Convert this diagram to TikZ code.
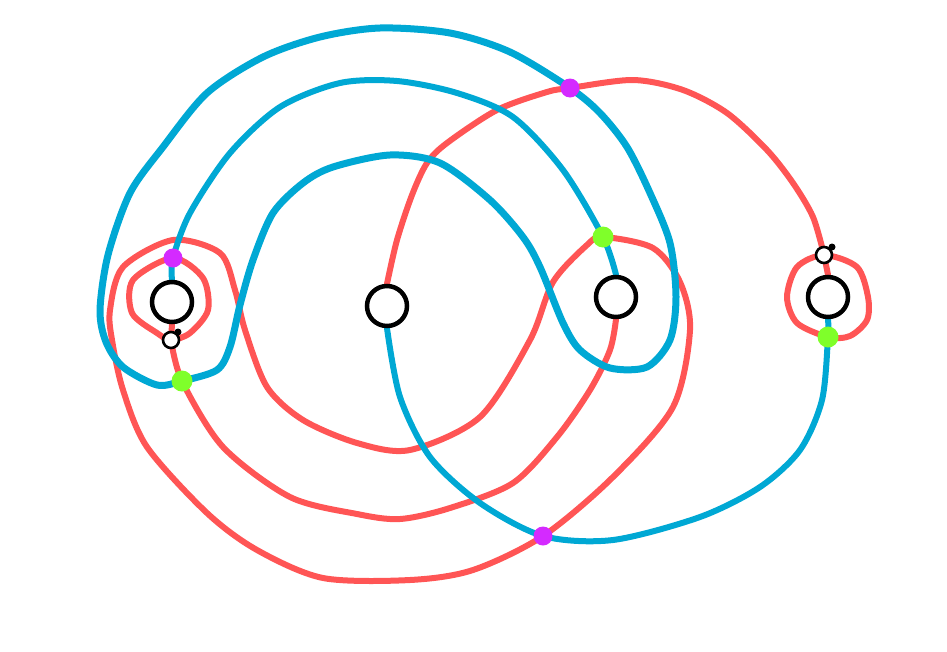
\documentclass[tikz,border=0pt]{standalone}
\usepackage{tikz}
\usetikzlibrary{backgrounds}
\definecolor{curveblue}{RGB}{0,168,212}
\definecolor{curvered}{RGB}{255,85,85}
\definecolor{dotpink}{RGB}{212,42,255}
\definecolor{dotgreen}{RGB}{127,255,42}
\tikzset{
    x=1pt, y=-1pt, % pixel-like coordinates, y going down
    puncture/.style={circle, draw=black, line width=4.5pt, fill=white, minimum size=40pt, inner sep=0pt}, % the big black circles
    basepoint/.style={circle, draw=black, line width=2.6pt, fill=white, minimum size=16pt, inner sep=0pt}, % small open circles
    tip/.style={circle, fill=black, minimum size=7pt, inner sep=0pt}, % the little black dot on them
    pinkdot/.style={circle, fill=dotpink, minimum size=19pt, inner sep=0pt},
    greendot/.style={circle, fill=dotgreen, minimum size=21pt, inner sep=0pt},
    bluecurve/.style={draw=curveblue, line width=6pt, line cap=round, line join=round},
    redcurve/.style={draw=curvered, line width=6pt, line cap=round, line join=round},
}
\begin{document}
\begin{tikzpicture}
    \useasboundingbox (0,0) rectangle (947,651);
    % punctures
    \node[puncture] (c1) at (172,302) {};
    \node[puncture] (c2) at (387,306) {};
    \node[puncture] (c3) at (616,297) {};
    \node[puncture] (c4) at (828,297) {};
    % base points
    \node[basepoint] (s1) at (171,340) {};
    \node[tip] at (178,332) {};
    \node[basepoint] (s2) at (824,255) {};
    \node[tip] at (832,247) {};
    % intersection dots
    \node[pinkdot] (m1) at (173,258) {};
    \node[pinkdot] (m2) at (570,88) {};
    \node[pinkdot] (m3) at (543,536) {};
    \node[greendot] (g1) at (182,381) {};
    \node[greendot] (g2) at (603,237) {};
    \node[greendot] (g3) at (828,337) {};
    \begin{scope}[on background layer]
        % red curves
        \draw[redcurve] plot[smooth cycle] coordinates {(m1) (133,280) (132,313) (157,333) (s1) (190,333) (208,310) (203,278)};
        \draw[redcurve] plot[smooth cycle] coordinates {(s2) (797,267) (787,297) (797,323) (g3) (850,336) (867,320) (868,297) (857,267)};
        \draw[redcurve] (s2) -- (c4.north);
        \draw[redcurve] (c1.south) -- (s1);
        \draw[redcurve] plot[smooth] coordinates {(s1) (g1) (223,447) (290,497) (357,514) (400,519) (450,508) (513,483) (557,437) (590,390) (610,350) (c3.south)};
        \draw[redcurve] plot[smooth] coordinates {(c2.north) (397,240) (412,195) (427,163) (447,143) (497,110) (547,92) (m2) (633,80) (683,90) (727,113) (767,150) (793,183) (813,217) (s2)};
        \draw[redcurve] plot[smooth cycle] coordinates {(173,240) (123,267) (110,310) (112,340) (123,390) (147,447) (207,513) (257,550) (323,578) (410,580) (473,570) (m3) (613,477) (673,407) (690,330) (680,282) (653,248) (g2) (587,245) (553,282) (530,340) (480,417) (410,450) (357,443) (303,420) (267,387) (245,330) (235,290) (220,253)};
        % blue curves
        \draw[bluecurve, line width=7pt] plot[smooth cycle] coordinates {(g1) (217,370) (230,347) (240,305) (253,260) (273,213) (303,183) (333,167) (390,155) (440,163) (490,200) (523,237) (540,267) (563,323) (580,350) (610,368) (647,367) (670,340) (676,297) (670,243) (650,193) (627,147) (600,113) (m2) (510,52) (450,33) (380,28) (320,37) (263,57) (207,93) (163,147) (130,193) (108,255) (100,310) (106,342) (123,367) (157,385)};
        \draw[bluecurve] plot[smooth] coordinates {(c1.north) (m1) (190,213) (230,153) (280,107) (340,83) (397,81) (457,93) (513,117) (563,170) (g2) (c3.north)};
        \draw[bluecurve] plot[smooth] coordinates {(c2.south) (400,397) (430,457) (480,503) (m3) (613,540) (700,517) (760,487) (800,450) (822,400) (g3) (c4.south)};
    \end{scope}
\end{tikzpicture}
\end{document}
